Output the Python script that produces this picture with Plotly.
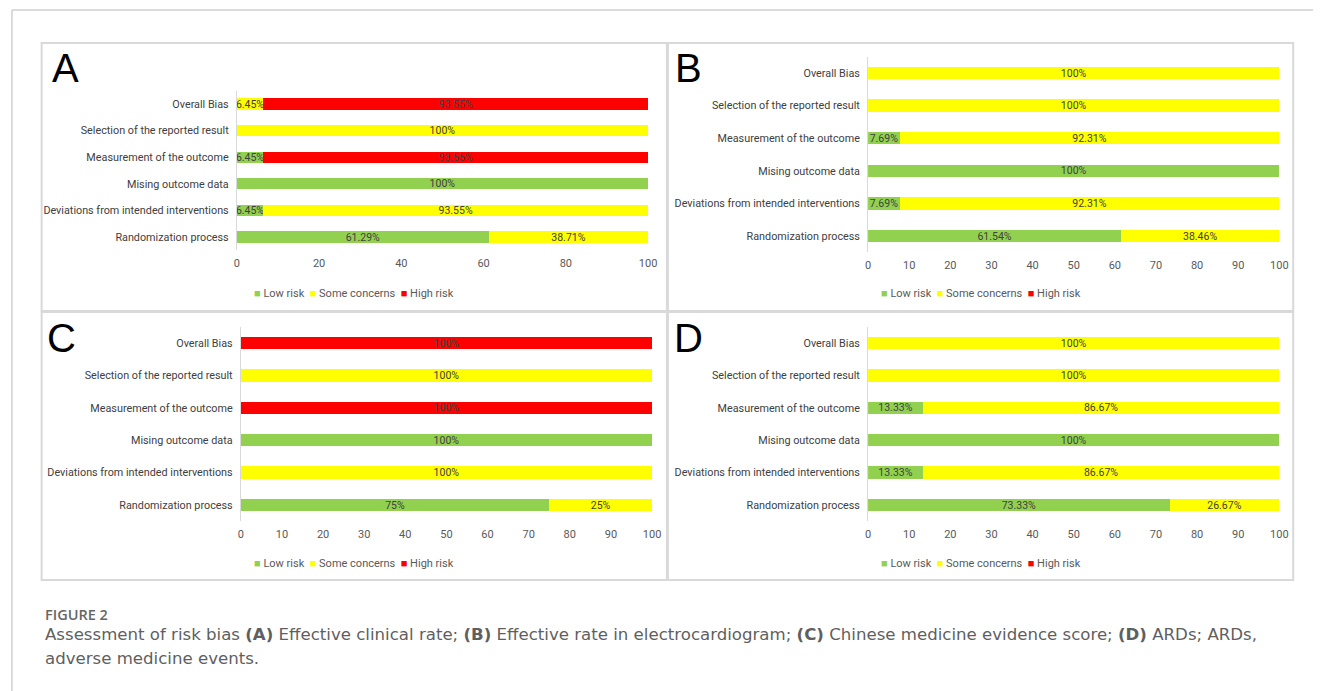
import plotly.graph_objects as go

# Risk-of-bias domains (bottom to top on each panel)
domains = [
    "Randomization process",
    "Deviations from intended interventions",
    "Mising outcome data",
    "Measurement of the outcome",
    "Selection of the reported result",
    "Overall Bias",
]

# Panel A: Effective clinical rate
a_low = [61.29, 6.45, 100, 6.45, 0, 0]
a_some = [38.71, 93.55, 0, 0, 100, 6.45]
a_high = [0, 0, 0, 93.55, 0, 93.55]

# Panel B: Effective rate in electrocardiogram
b_low = [61.54, 7.69, 100, 7.69, 0, 0]
b_some = [38.46, 92.31, 0, 92.31, 100, 100]
b_high = [0, 0, 0, 0, 0, 0]

# Panel C: Chinese medicine evidence score
c_low = [75, 0, 100, 0, 0, 0]
c_some = [25, 100, 0, 0, 100, 0]
c_high = [0, 0, 0, 100, 0, 100]

# Panel D: ARDs
d_low = [73.33, 13.33, 100, 13.33, 0, 0]
d_some = [26.67, 86.67, 0, 86.67, 100, 100]
d_high = [0, 0, 0, 0, 0, 0]

a_ticks = [0, 20, 40, 60, 80, 100]
bcd_ticks = [0, 10, 20, 30, 40, 50, 60, 70, 80, 90, 100]

series_names = ["Low risk", "Some concerns", "High risk"]
series_colors = ["#92D050", "#FFFF00", "#FF0000"]

W, H = 1322, 691
CHART_FONT = "Roboto, Arial, sans-serif"
LABEL_GREY = "#404040"
TICK_GREY = "#595959"


def px_x(x):
    return x / W


def px_y(y):
    return 1 - y / H


panels = [
    # letter, data, ticks, x-domain px, y-domain px (top, bottom), bar width, box, letter pos, legend y
    ("A", (a_low, a_some, a_high), a_ticks, (236, 651), (90.7, 250.3), 0.42,
     (39, 43, 670, 311), (63, 68), 294),
    ("B", (b_low, b_some, b_high), bcd_ticks, (873, 1288), (56.7, 252.3), 0.38,
     (671, 43, 1302, 311), (692, 68), 294),
    ("C", (c_low, c_some, c_high), bcd_ticks, (240, 655), (326.8, 521.2), 0.38,
     (39, 312, 670, 580), (59, 338), 563),
    ("D", (d_low, d_some, d_high), bcd_ticks, (873, 1288), (326.8, 521.2), 0.38,
     (671, 312, 1302, 580), (692, 338), 563),
]

fig = go.Figure()
shapes = []
annotations = []
layout_axes = {}

for i, (letter, data, ticks, xdom, ydom, bw, box, lpos, leg_y) in enumerate(panels):
    n = "" if i == 0 else str(i + 1)
    for name, color, vals in zip(series_names, series_colors, data):
        fig.add_trace(go.Bar(
            x=vals,
            y=domains,
            orientation="h",
            width=bw,
            name=name,
            marker=dict(color=color, line=dict(width=0)),
            text=[f"{v:g}%" if v > 0 else "" for v in vals],
            textposition="inside",
            insidetextanchor="middle",
            constraintext="none",
            textangle=0,
            textfont=dict(family=CHART_FONT, size=10.5, color=LABEL_GREY),
            cliponaxis=False,
            showlegend=False,
            hoverinfo="skip",
            xaxis="x" + n,
            yaxis="y" + n,
        ))

    layout_axes["xaxis" + n] = dict(
        domain=[px_x(xdom[0]), px_x(xdom[1])],
        anchor="y" + n,
        range=[0, 100],
        tickvals=ticks,
        showgrid=False,
        zeroline=False,
        showline=False,
        ticks="",
        ticklabelstandoff=5,
        tickfont=dict(family=CHART_FONT, size=11, color=TICK_GREY),
        fixedrange=True,
    )
    layout_axes["yaxis" + n] = dict(
        domain=[px_y(ydom[1]), px_y(ydom[0])],
        anchor="x" + n,
        type="category",
        categoryorder="array",
        categoryarray=domains,
        showgrid=False,
        zeroline=False,
        showline=True,
        linecolor="#D9D9D9",
        linewidth=1,
        ticks="",
        ticklabelstandoff=5,
        tickfont=dict(family=CHART_FONT, size=10.8, color=LABEL_GREY),
        fixedrange=True,
    )

    # panel frame
    shapes.append(dict(
        type="rect", xref="paper", yref="paper",
        x0=px_x(box[0]), x1=px_x(box[2]), y0=px_y(box[3]), y1=px_y(box[1]),
        line=dict(color="#D9D9D9", width=2), layer="below",
    ))

    # panel letter
    annotations.append(dict(
        text=letter, xref="paper", yref="paper",
        x=px_x(lpos[0]), y=px_y(lpos[1]), xanchor="center", yanchor="middle",
        showarrow=False, font=dict(family="Liberation Sans, Arial, sans-serif", size=40, color="#000000"),
    ))

    # per-panel legend row, centred under the panel
    legend_text = "  ".join(
        f"<span style='color:{c}'>■</span> {nm}" for nm, c in zip(series_names, series_colors)
    )
    annotations.append(dict(
        text=legend_text, xref="paper", yref="paper",
        x=px_x((box[0] + box[2]) / 2), y=px_y(leg_y), xanchor="center", yanchor="middle",
        showarrow=False, font=dict(family=CHART_FONT, size=11, color=TICK_GREY),
    ))

# page frame
shapes.append(dict(type="line", xref="paper", yref="paper",
                   x0=px_x(9), x1=1, y0=px_y(10), y1=px_y(10),
                   line=dict(color="#CFCFCF", width=1.5)))
shapes.append(dict(type="line", xref="paper", yref="paper",
                   x0=px_x(9), x1=px_x(9), y0=0, y1=px_y(10),
                   line=dict(color="#CFCFCF", width=1.5)))

# figure caption
CAP_FONT = "DejaVu Sans, Open Sans, sans-serif"
annotations.append(dict(
    text="FIGURE 2", xref="paper", yref="paper", x=px_x(40), y=px_y(614),
    xanchor="left", yanchor="middle", showarrow=False,
    font=dict(family="Open Sans, sans-serif", size=14.5, color="#666666", weight=600),
))
annotations.append(dict(
    text=("Assessment of risk bias <b>(A)</b> Effective clinical rate; <b>(B)</b> Effective rate in "
          "electrocardiogram; <b>(C)</b> Chinese medicine evidence score; <b>(D)</b> ARDs; ARDs,"),
    xref="paper", yref="paper", x=px_x(40), y=px_y(634),
    xanchor="left", yanchor="middle", showarrow=False,
    font=dict(family=CAP_FONT, size=16.6, color="#5f5f5f"),
))
annotations.append(dict(
    text="adverse medicine events.",
    xref="paper", yref="paper", x=px_x(40), y=px_y(658),
    xanchor="left", yanchor="middle", showarrow=False,
    font=dict(family=CAP_FONT, size=16.6, color="#5f5f5f"),
))

fig.update_layout(
    width=W, height=H,
    margin=dict(l=0, r=0, t=0, b=0),
    paper_bgcolor="white",
    plot_bgcolor="white",
    showlegend=False,
    barmode="stack",
    shapes=shapes,
    annotations=annotations,
    **layout_axes,
)

fig.write_html("out.html", config={"displayModeBar": False})
